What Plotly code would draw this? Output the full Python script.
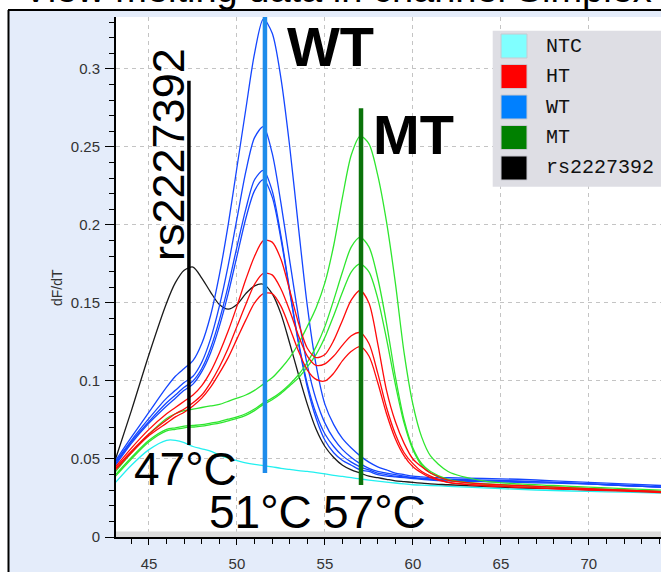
import plotly.graph_objects as go

# ---------------- data ----------------
temps = [43.1, 44, 45, 46, 46.5, 47, 47.5, 48, 48.5, 49,
         49.5, 50, 50.5, 51, 51.5, 52, 52.5, 53, 53.5, 54,
         54.5, 55, 55.5, 56, 56.5, 57, 57.5, 58, 58.5, 59,
         59.5, 60, 60.5, 61, 62, 64, 66, 68, 70, 72, 74.1]

ntc = [.035, .046, .056, .062, .062, .0605, .058, .0565, .055, .0525,
       .0505, .049, .0475, .0465, .0458, .045, .044, .0433, .0425, .042,
       .0413, .0405, .0395, .0388, .038, .0372, .0365, .0358, .0352, .0346,
       .034, .0335, .0332, .033, .0325, .0315, .0305, .0298, .0292, .0287, .0282]

rs = [.050, .081, .117, .150, .163, .171, .173, .166, .157, .149,
      .146, .149, .156, .161, .162, .156, .143, .124, .104, .085,
      .069, .058, .051, .046, .043, .041, .039, .038, .037, .036,
      .0355, .035, .0345, .034, .0335, .0325, .0315, .031, .0303, .0297, .029]

wt_1 = [.049, .064, .080, .096, .103, .108, .113, .124, .142, .168,
        .200, .237, .274, .310, .332, .323, .294, .250, .198, .148,
        .110, .085, .072, .063, .057, .052, .048, .045, .043, .041,
        .040, .039, .0385, .038, .038, .0375, .037, .036, .035, .034, .033]
wt_2 = [.048, .062, .076, .089, .094, .099, .103, .112, .127, .148,
        .174, .204, .234, .256, .263, .246, .214, .177, .141, .110,
        .088, .073, .063, .056, .051, .047, .044, .042, .041, .040,
        .039, .038, .0375, .037, .037, .0365, .036, .035, .034, .033, .032]
wt_3 = [.047, .061, .074, .086, .091, .096, .100, .108, .121, .139,
        .161, .186, .210, .229, .235, .222, .193, .158, .125, .098,
        .079, .066, .058, .052, .048, .045, .043, .041, .040, .039,
        .0385, .038, .0375, .037, .0365, .036, .0355, .035, .034, .033, .032]
wt_4 = [.046, .060, .073, .084, .089, .094, .098, .106, .118, .135,
        .156, .180, .204, .222, .229, .218, .191, .157, .124, .096,
        .076, .062, .054, .049, .046, .043, .042, .040, .039, .0385,
        .038, .0375, .037, .0365, .036, .0355, .035, .0345, .034, .033, .032]

ht_1 = [.045, .057, .069, .079, .083, .087, .091, .097, .106, .118,
        .132, .148, .165, .180, .190, .189, .178, .158, .137, .121,
        .115, .117, .126, .139, .152, .158, .150, .124, .094, .074,
        .060, .050, .045, .041, .0365, .034, .033, .032, .031, .030, .029]
ht_2 = [.044, .055, .066, .075, .079, .082, .086, .091, .099, .109,
        .121, .135, .149, .162, .169, .168, .159, .145, .129, .116,
        .110, .111, .116, .123, .129, .131, .124, .105, .083, .066,
        .054, .047, .042, .039, .035, .033, .032, .031, .0305, .030, .029]
ht_3 = [.043, .054, .065, .073, .077, .080, .084, .089, .096, .105,
        .115, .127, .139, .150, .156, .156, .148, .134, .119, .107,
        .101, .100, .105, .113, .119, .122, .116, .099, .079, .063,
        .052, .045, .041, .038, .035, .033, .032, .031, .030, .0295, .0285]

mt_1 = [.042, .054, .066, .076, .079, .081, .082, .083, .084, .085,
        .087, .089, .091, .094, .098, .102, .108, .115, .124, .135,
        .147, .163, .187, .218, .245, .257, .252, .232, .202, .163,
        .118, .085, .064, .052, .042, .036, .034, .033, .032, .031, .030]
mt_2 = [.040, .051, .062, .069, .070, .071, .0715, .072, .073, .074,
        .0755, .077, .079, .082, .086, .089, .093, .098, .104, .112,
        .122, .135, .152, .170, .186, .192, .186, .166, .137, .103,
        .075, .057, .047, .042, .037, .034, .033, .032, .031, .030, .029]
mt_3 = [.039, .050, .061, .068, .069, .070, .0705, .071, .072, .073,
        .0745, .076, .078, .081, .085, .088, .092, .097, .102, .109,
        .117, .128, .142, .157, .170, .175, .170, .153, .127, .098,
        .073, .056, .046, .041, .0365, .034, .033, .032, .031, .030, .029]

legend_labels = ["NTC", "HT", "WT", "MT", "rs2227392"]
legend_colors = ["#80FFFF", "#FF0000", "#0080FF", "#008000", "#000000"]

marker_temps = [47.27, 51.59, 57.05]
marker_low = [0.059, 0.041, 0.0333]
marker_high = [0.2925, 0.34, 0.2748]

peak_labels = ["47°C", "51°C", "57°C"]
group_labels = ["WT", "MT", "rs2227392"]
title_text = "View melting data in channel Simplex"
y_title = "dF/dT"

# ---------------- figure ----------------
W, H = 661, 572
ML, MR, MT_, MB = 116, 0, 17, 35
PW = W - ML - MR
PH = H - MT_ - MB


def px(x):
    return (x - ML) / PW


def py(y):
    return (H - MB - y) / PH


fig = go.Figure()

series = [
    (ntc, "#22F0F0", "NTC"),
    (rs, "#1A1A1A", "rs2227392"),
    (wt_1, "#1446FF", "WT"), (wt_2, "#1446FF", "WT"),
    (wt_3, "#1446FF", "WT"), (wt_4, "#1446FF", "WT"),
    (mt_1, "#2EE62E", "MT"), (mt_2, "#2EE62E", "MT"), (mt_3, "#2EE62E", "MT"),
    (ht_1, "#FF0A0A", "HT"), (ht_2, "#FF0A0A", "HT"), (ht_3, "#FF0A0A", "HT"),
]
for vals, col, name in series:
    fig.add_trace(go.Scatter(x=temps, y=vals, mode="lines", name=name,
                             line=dict(color=col, width=1.3, shape="spline", smoothing=0.8),
                             hoverinfo="skip"))

marker_cols = ["#000000", "#1E8CEB", "#0B730B"]
marker_w = [3.5, 4.5, 4.5]
for t, lo, hi, c, w in zip(marker_temps, marker_low, marker_high, marker_cols, marker_w):
    fig.add_trace(go.Scatter(x=[t, t], y=[lo, hi], mode="lines",
                             line=dict(color=c, width=w), hoverinfo="skip"))

tickfont = dict(family="Liberation Sans, Arial, sans-serif", size=15, color="#333333")
fig.update_layout(
    width=W, height=H,
    margin=dict(l=ML, r=MR, t=MT_, b=MB),
    paper_bgcolor="#E4ECFA", plot_bgcolor="white",
    showlegend=False,
    xaxis=dict(range=[43.125, 74.1], tick0=45, dtick=5, ticks="outside", ticklen=6,
               tickcolor="black", showline=True, linecolor="black", linewidth=2,
               showgrid=True, gridcolor="#C4C4C4", griddash="4px,4px", gridwidth=1,
               zeroline=False, tickfont=tickfont, ticklabelstandoff=6,
               minor=dict(dtick=1, ticks="outside", ticklen=5, tickcolor="black", showgrid=False)),
    yaxis=dict(range=[0, 0.3333], tick0=0, dtick=0.05, ticks="outside", ticklen=9,
               tickcolor="black", showline=True, linecolor="black", linewidth=2,
               showgrid=True, gridcolor="#C4C4C4", griddash="4px,4px", gridwidth=1,
               zeroline=False, tickfont=tickfont, ticklabelstandoff=2,
               minor=dict(dtick=0.01, ticks="outside", ticklen=5, tickcolor="black", showgrid=False)),
)

shapes = []
# window frame outside strips
shapes.append(dict(type="rect", xref="paper", yref="paper", x0=px(-5), x1=px(8), y0=py(H + 5), y1=py(-5),
                   fillcolor="white", line=dict(width=0), layer="above"))
shapes.append(dict(type="rect", xref="paper", yref="paper", x0=px(-5), x1=px(W + 5), y0=py(10), y1=py(-5),
                   fillcolor="white", line=dict(width=0), layer="above"))
shapes.append(dict(type="line", xref="paper", yref="paper", x0=px(8.5), x1=px(8.5), y0=py(H + 5), y1=py(10),
                   line=dict(color="black", width=2), layer="above"))
shapes.append(dict(type="line", xref="paper", yref="paper", x0=px(8), x1=px(W + 5), y0=py(10), y1=py(10),
                   line=dict(color="black", width=2), layer="above"))
# grey strip at bottom of plot area
shapes.append(dict(type="rect", xref="paper", yref="paper", x0=0, x1=1, y0=0, y1=py(531.5),
                   fillcolor="#DCDCDC", line=dict(width=0), layer="above"))
# legend box
shapes.append(dict(type="rect", xref="paper", yref="paper", x0=px(492.7), x1=px(W + 5),
                   y0=py(186.7), y1=py(30.7), fillcolor="#DEDEE4", line=dict(width=0), layer="above"))
annotations = []
for i, (lab, col) in enumerate(zip(legend_labels, legend_colors)):
    top = 34 + i * 30.5
    shapes.append(dict(type="rect", xref="paper", yref="paper", x0=px(501), x1=px(527),
                       y0=py(top + 24), y1=py(top), fillcolor=col,
                       line=dict(color="#C8C8D0", width=1), layer="above"))
    annotations.append(dict(xref="paper", yref="paper", x=px(544), y=py(top + 12),
                            xanchor="left", yanchor="middle", showarrow=False, text=lab,
                            font=dict(family="Liberation Mono, monospace", size=20, color="#111111")))

big = "Liberation Sans, Arial, sans-serif"
annotations += [
    dict(x=55.34, y=0.3144, text="<b>" + group_labels[0] + "</b>", showarrow=False,
         font=dict(family=big, size=56, color="black")),
    dict(x=60.03, y=0.2577, text="<b>" + group_labels[1] + "</b>", showarrow=False,
         font=dict(family=big, size=56, color="black")),
    dict(x=46.14, y=0.2449, text=group_labels[2], textangle=-90, showarrow=False,
         font=dict(family=big, size=45, color="black")),
    dict(x=47.05, y=0.0436, text=peak_labels[0], showarrow=False,
         font=dict(family=big, size=46, color="black")),
    dict(x=51.31, y=0.0163, text=peak_labels[1], showarrow=False,
         font=dict(family=big, size=46, color="black")),
    dict(x=57.84, y=0.0163, text=peak_labels[2], showarrow=False,
         font=dict(family=big, size=46, color="black")),
    dict(xref="paper", yref="paper", x=px(47), y=py(288), text=y_title, textangle=-90,
         showarrow=False, font=dict(family=big, size=14, color="#333333")),
    dict(xref="paper", yref="paper", x=px(21), y=py(-11), xanchor="left", yanchor="middle",
         text=title_text, showarrow=False, font=dict(family=big, size=38, color="black")),
]

fig.update_layout(shapes=shapes, annotations=annotations)
fig.write_html("out.html", config={"displayModeBar": False},
               post_script="document.body.style.margin='0';document.body.style.overflow='hidden';")
